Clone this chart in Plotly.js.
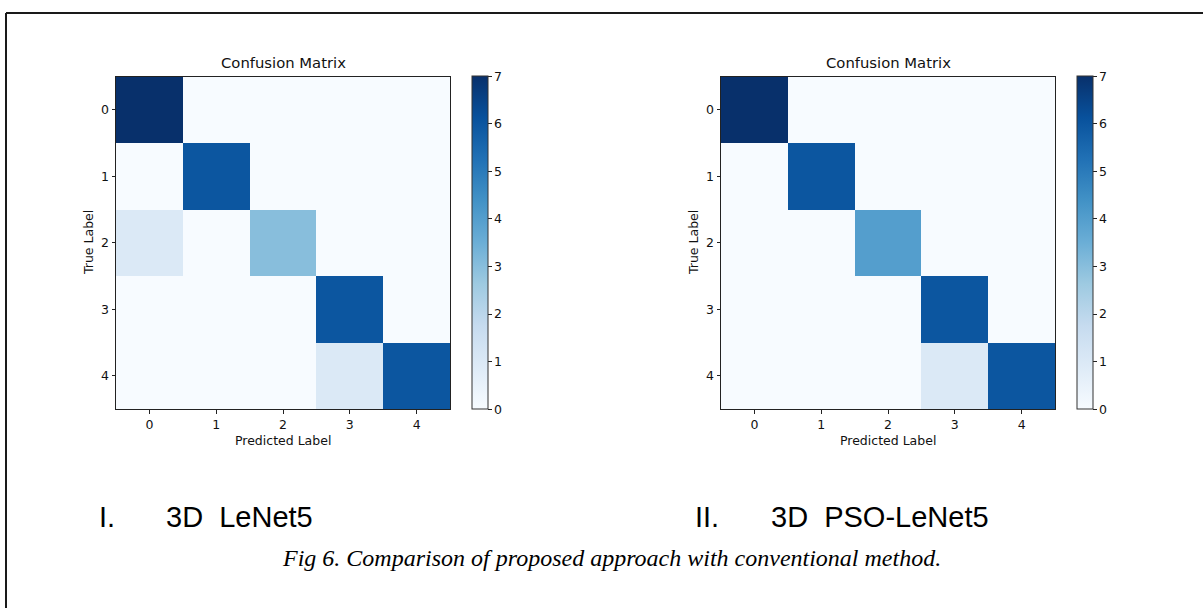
<!DOCTYPE html>
<html>
<head>
<meta charset="utf-8">
<script src="https://cdn.plot.ly/plotly-3.0.1.min.js"></script>
<style>html,body{margin:0;padding:0;background:#fff;}#chart{width:1203px;height:608px;}</style>
</head>
<body>
<div id="chart"></div>
<script>
// Data
const classLabels = ['0', '1', '2', '3', '4'];
const classIdx = [0, 1, 2, 3, 4];
const lenetMatrix = [
  [7, 0, 0, 0, 0],
  [0, 6, 0, 0, 0],
  [1, 0, 3, 0, 0],
  [0, 0, 0, 6, 0],
  [0, 0, 0, 1, 6]
];
const psoLenetMatrix = [
  [7, 0, 0, 0, 0],
  [0, 6, 0, 0, 0],
  [0, 0, 4, 0, 0],
  [0, 0, 0, 6, 0],
  [0, 0, 0, 1, 6]
];
const colorbarTicks = [0, 1, 2, 3, 4, 5, 6, 7];
const panelTitles = ['Confusion Matrix', 'Confusion Matrix'];
const panelNames = ['3D\u00a0 LeNet5', '3D\u00a0 PSO-LeNet5'];
const panelNumerals = ['I.', 'II.'];
const caption = 'Fig 6. Comparison of proposed approach with conventional method.';

const W = 1203, H = 608;
const px = v => v / W;
const py = v => 1 - v / H;

const blues = [
  [0.0, '#f7fbff'], [0.125, '#deebf7'], [0.25, '#c6dbef'], [0.375, '#9ecae1'],
  [0.5, '#6baed6'], [0.625, '#4292c6'], [0.75, '#2171b5'], [0.875, '#08519c'], [1.0, '#08306b']
];

const plotTop = 76.5, plotBot = 409;
const panels = [
  {x0: 116, x1: 450, cb: 472},
  {x0: 721, x1: 1055, cb: 1077}
];

const fontAxis = {family: 'DejaVu Sans', size: 12.5, color: '#111'};

function heat(z, i) {
  const p = panels[i];
  return {
    type: 'heatmap', z: z, x: classIdx, y: classIdx,
    xaxis: i === 0 ? 'x' : 'x2', yaxis: i === 0 ? 'y' : 'y2',
    colorscale: blues, zmin: 0, zmax: 7, hoverinfo: 'skip',
    colorbar: {
      x: px(p.cb), xanchor: 'left', xpad: 0, ypad: 0,
      y: (py(plotTop) + py(plotBot)) / 2, yanchor: 'middle',
      len: plotBot - plotTop, lenmode: 'pixels', thickness: 16, thicknessmode: 'pixels',
      outlinewidth: 1, outlinecolor: '#333',
      tickvals: colorbarTicks, ticks: 'outside', ticklen: 3.5, tickcolor: '#222', tickwidth: 1,
      tickfont: fontAxis
    }
  };
}

function xax(i) {
  const p = panels[i];
  return {
    domain: [px(p.x0), px(p.x1)], range: [-0.5, 4.5], anchor: i === 0 ? 'y' : 'y2',
    tickvals: classIdx, ticktext: classLabels, ticks: 'outside', ticklen: 3.5, tickcolor: '#222',
    tickfont: fontAxis, showline: true, linecolor: '#222', linewidth: 1, mirror: true,
    showgrid: false, zeroline: false, fixedrange: true
  };
}
function yax(i) {
  return {
    domain: [py(plotBot), py(plotTop)], range: [4.5, -0.5], anchor: i === 0 ? 'x' : 'x2',
    tickvals: classIdx, ticktext: classLabels, ticks: 'outside', ticklen: 3.5, tickcolor: '#222',
    tickfont: fontAxis, showline: true, linecolor: '#222', linewidth: 1, mirror: true,
    showgrid: false, zeroline: false, fixedrange: true
  };
}

const annotations = [];
panels.forEach((p, i) => {
  const cx = (p.x0 + p.x1) / 2;
  annotations.push({text: panelTitles[i], x: px(cx), y: py(62), xref: 'paper', yref: 'paper',
    showarrow: false, xanchor: 'center', yanchor: 'middle',
    font: {family: 'DejaVu Sans', size: 14.8, color: '#111'}});
  annotations.push({text: 'Predicted Label', x: px(cx), y: py(440), xref: 'paper', yref: 'paper',
    showarrow: false, xanchor: 'center', yanchor: 'middle', font: fontAxis});
  annotations.push({text: 'True Label', x: px(p.x0 - 28), y: py(243), xref: 'paper', yref: 'paper',
    showarrow: false, xanchor: 'center', yanchor: 'middle', textangle: -90, font: fontAxis});
});
const bigFont = {family: 'Liberation Sans, Arial, sans-serif', size: 29, color: '#000'};
annotations.push({text: panelNumerals[0], x: px(97), y: py(517), xref: 'paper', yref: 'paper',
  showarrow: false, xanchor: 'left', yanchor: 'middle', font: bigFont});
annotations.push({text: panelNames[0], x: px(164), y: py(517), xref: 'paper', yref: 'paper',
  showarrow: false, xanchor: 'left', yanchor: 'middle', font: bigFont});
annotations.push({text: panelNumerals[1], x: px(693), y: py(517), xref: 'paper', yref: 'paper',
  showarrow: false, xanchor: 'left', yanchor: 'middle', font: bigFont});
annotations.push({text: panelNames[1], x: px(769), y: py(517), xref: 'paper', yref: 'paper',
  showarrow: false, xanchor: 'left', yanchor: 'middle', font: bigFont});
annotations.push({text: '<i>' + caption + '</i>', x: px(611), y: py(558), xref: 'paper', yref: 'paper',
  showarrow: false, xanchor: 'center', yanchor: 'middle',
  font: {family: 'Liberation Serif, Times New Roman, serif', size: 24, color: '#000'}});

const layout = {
  width: W, height: H, margin: {l: 0, r: 0, t: 0, b: 0},
  paper_bgcolor: '#fff', plot_bgcolor: '#fff', showlegend: false,
  xaxis: xax(0), yaxis: yax(0), xaxis2: xax(1), yaxis2: yax(1),
  annotations: annotations,
  shapes: [
    {type: 'line', xref: 'paper', yref: 'paper', x0: px(6), x1: 1, y0: py(13), y1: py(13), line: {color: '#1a1a1a', width: 2}},
    {type: 'line', xref: 'paper', yref: 'paper', x0: px(6), x1: px(6), y0: py(13), y1: 0, line: {color: '#1a1a1a', width: 2}}
  ]
};

Plotly.newPlot('chart', [heat(lenetMatrix, 0), heat(psoLenetMatrix, 1)], layout, {displayModeBar: false, staticPlot: true});
</script>
</body>
</html>
